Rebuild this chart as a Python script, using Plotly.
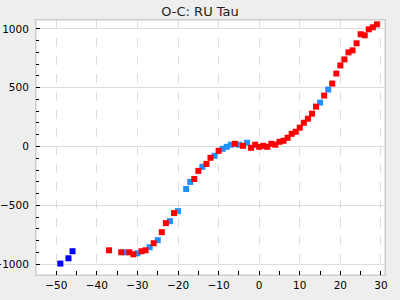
import plotly.graph_objects as go

# Dark blue series
db_x = [-49, -47, -46]
db_y = [-995, -950, -890]

# Dodger blue series
lb_x = [-33, -30, -27, -25, -22, -20, -18, -17, -14, -11, -9, -8, -7, -5, -3, 15, 17]
lb_y = [-899, -907, -856, -796, -634, -549, -361, -301, -173, -79, -20, -3, 15, 15, 32, 373, 484]

# Red series
r_x = [-37, -34, -32, -31, -29, -28, -26, -24, -23, -21, -16, -15, -13, -12, -10, -6, -4,
       -2, -1, 0, 1, 2, 3, 4, 5, 6, 7, 8, 9, 10, 11, 12, 13, 14, 16, 18, 19, 20, 21, 22, 23,
       24, 25, 26, 27, 28, 29]
r_y = [-882, -899, -899, -916, -890, -882, -822, -728, -651, -566, -276, -207, -148, -96, -37, 23, 6,
       -11, 15, -3, 6, -3, 23, 15, 40, 49, 74, 108, 125, 160, 202, 236, 279, 339, 433, 535, 620, 689, 740, 800, 817,
       877, 954, 945, 996, 1013, 1038]

title_text = "O-C: RU Tau"

fig = go.Figure()
mk = dict(symbol="square", size=6, line=dict(width=0))
fig.add_trace(go.Scatter(x=db_x, y=db_y, mode="markers", marker=dict(color="#0000ff", **mk)))
fig.add_trace(go.Scatter(x=lb_x, y=lb_y, mode="markers", marker=dict(color="#1e90ff", **mk)))
fig.add_trace(go.Scatter(x=r_x, y=r_y, mode="markers", marker=dict(color="#ff0000", **mk)))

fig.update_layout(
    width=400, height=300,
    margin=dict(l=35.5, r=15, t=20, b=25, autoexpand=False),
    paper_bgcolor="#eeeeee",
    plot_bgcolor="#ffffff",
    showlegend=False,
    font=dict(family="DejaVu Sans", size=10.5, color="#000000"),
    title=dict(text=title_text, x=0.5, xanchor="center", y=1 - 11/300, yanchor="middle",
               font=dict(family="DejaVu Sans", size=13, color="#222222")),
    shapes=[dict(type="rect", xref="paper", yref="paper", x0=0, x1=1, y0=0, y1=1,
                 line=dict(color="#cccccc", width=1), layer="below")],
)
fig.update_xaxes(
    range=[-55, 31], tickmode="linear", tick0=-50, dtick=10, automargin=False,
    showgrid=True, gridcolor="#dddddd", griddash="dash", gridwidth=1,
    zeroline=False, showline=True, linecolor="#cccccc", mirror=True,
    ticks="inside", ticklen=4, tickcolor="#000000", ticklabelstandoff=0,
    minor=dict(tickmode="linear", tick0=-45, dtick=10, ticks="inside", ticklen=4, tickcolor="#000000", showgrid=False),
)
fig.update_yaxes(
    range=[-1092, 1075], tickmode="linear", tick0=-1000, dtick=500, automargin=False,
    showgrid=True, gridcolor="#dddddd", gridwidth=1,
    zeroline=False, showline=True, linecolor="#cccccc", mirror=True,
    ticks="inside", ticklen=4, tickcolor="#000000", ticklabelstandoff=4,
    minor=dict(tickmode="linear", tick0=-1000, dtick=100, ticks="inside", ticklen=3, tickcolor="#000000", showgrid=False),
)

fig.write_html("out.html")
